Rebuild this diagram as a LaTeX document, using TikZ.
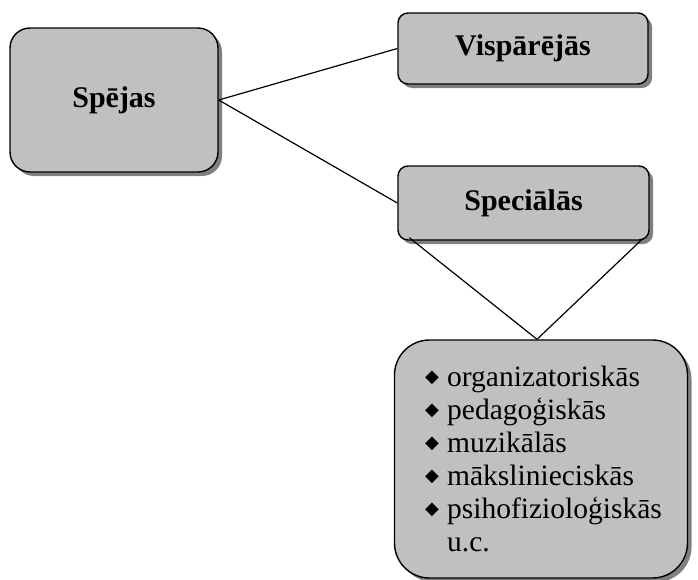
\documentclass[tikz,border=0pt]{standalone}
\usepackage{fontspec}
\setmainfont{Liberation Serif}
\newfontfamily\symfont{DejaVu Sans}
\usetikzlibrary{shadows}
\definecolor{boxgray}{HTML}{C0C0C0}
\definecolor{shadegray}{HTML}{808080}
\tikzset{
  card/.style={draw=black, line width=1.4pt, fill=boxgray, rectangle,
    drop shadow={shadow xshift=4pt, shadow yshift=-4pt, fill=shadegray, opacity=1},
    font=\fontsize{30}{33}\selectfont\bfseries, inner sep=0pt},
  link/.style={draw=black, line width=1.2pt}
}
% bullet marker for the list entries
\newcommand{\itm}{\makebox[27pt][l]{\hspace*{5pt}\raisebox{4pt}{\symfont\fontsize{18}{18}\selectfont ◆}}}
\begin{document}
\begin{tikzpicture}[x=1pt,y=-1pt]
\useasboundingbox (0,0) rectangle (698,579);
\node[card, rounded corners=20pt, minimum width=208pt, minimum height=144pt] (spejas) at (114,100) {Spējas};
\node[card, rounded corners=10pt, minimum width=250pt, minimum height=71pt] (visp) at (523,48.5) {Vispārējās};
\node[card, rounded corners=10pt, minimum width=251pt, minimum height=74pt] (spec) at (523.5,203) {Speciālās};
\node[card, rounded corners=35pt, minimum width=293pt, minimum height=238pt,
  font=\fontsize{29.5}{33}\selectfont, align=left] (list) at (541,459)
  {\itm organizatoriskās\\ \itm pedagoģiskās\\ \itm muzikālās\\ \itm mākslinieciskās\\ \itm psihofizioloģiskās\\ \hspace*{27pt}u.c.};
\coordinate (apex) at ([xshift=-4pt]list.north);
\draw[link] (spejas.east) -- (visp.west);
\draw[link] (spejas.east) -- (spec.west);
\draw[link] ([xshift=12pt,yshift=3pt]spec.south west) -- (apex);
\draw[link] ([xshift=-7pt,yshift=2pt]spec.south east) -- (apex);
\end{tikzpicture}
\end{document}
